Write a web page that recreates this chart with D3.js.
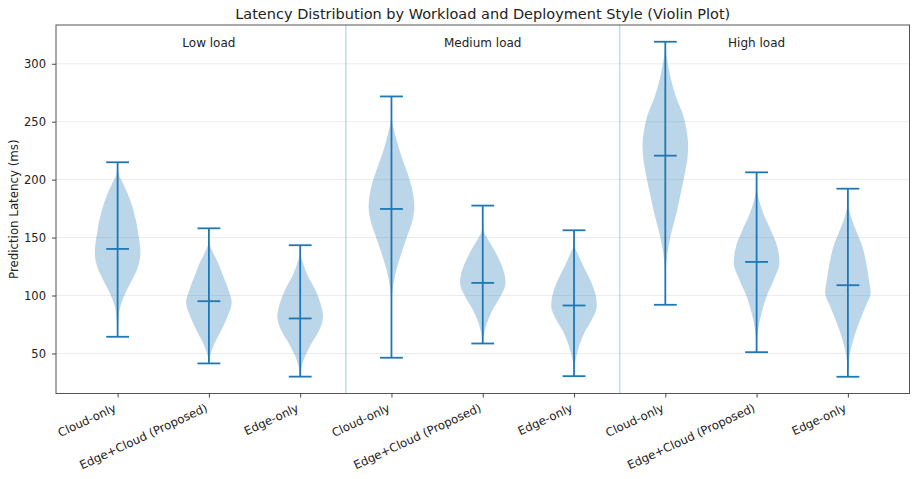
<!DOCTYPE html>
<html>
<head>
<meta charset="utf-8">
<script src="https://cdn.jsdelivr.net/npm/d3@7"></script>
<style>
  html, body { margin: 0; padding: 0; background: #fff; }
  text { font-family: "DejaVu Sans", sans-serif; fill: #222; }
</style>
</head>
<body>
<svg id="chart" width="912" height="479"></svg>
<script>
// ---------------- data ----------------
const title = "Latency Distribution by Workload and Deployment Style (Violin Plot)";
const yLabel = "Prediction Latency (ms)";
const loads = ["Low load", "Medium load", "High load"];
const styles = ["Cloud-only", "Edge+Cloud (Proposed)", "Edge-only"];
const yTicks = [50, 100, 150, 200, 250, 300];

// per violin, in order Low/Medium/High × Cloud-only/Edge+Cloud/Edge-only
const mins    = [64.4, 41.4, 30.0, 46.3, 58.6, 30.4, 92.0, 51.1, 29.9];
const maxs    = [215.0, 158.0, 143.4, 271.8, 177.6, 156.3, 319.0, 206.3, 192.2];
const medians = [140.2, 95.1, 80.2, 174.7, 110.9, 91.4, 220.7, 129.0, 108.9];

// density profiles: [latency, relative half-width]
const lowCloud = [[64.4,0],[72,0.01],[76.5,0.03],[88,0.09],[99.4,0.28],[111,0.57],[125.3,0.9],[136.8,1.0],[154,0.9],[168.4,0.76],[182.8,0.54],[197,0.23],[204,0.06],[210,0.02],[215,0]];
const lowHybrid = [[41.4,0],[45,0.02],[50.6,0.09],[59.2,0.26],[70.7,0.56],[82.2,0.82],[93.7,1.0],[105.2,0.85],[116.6,0.63],[128.2,0.4],[139.7,0.12],[145,0.03],[158,0]];
const lowEdge = [[30,0],[33,0.02],[39,0.07],[47.7,0.22],[59.2,0.51],[70.7,0.85],[82.2,1.0],[93.7,0.88],[105.2,0.66],[116.6,0.34],[128.2,0.12],[134,0.03],[143.4,0]];
const medCloud = [[46.3,0],[90,0.01],[100,0.02],[108,0.07],[122.4,0.22],[136.8,0.44],[151.1,0.69],[165.5,0.93],[177,1.0],[191.4,0.91],[205.8,0.7],[220,0.44],[234.5,0.22],[246,0.07],[252,0.02],[271.8,0]];
const medHybrid = [[58.6,0],[62,0.02],[67.8,0.07],[76.5,0.19],[87.9,0.44],[99.4,0.78],[110.9,1.0],[116.6,0.97],[128.2,0.78],[139.7,0.49],[151.1,0.15],[157,0.03],[177.6,0]];
const medEdge = [[30.4,0],[39,0.02],[44.8,0.07],[56.3,0.22],[67.8,0.45],[79.3,0.78],[90.8,1.0],[102.3,0.92],[113.8,0.7],[125.3,0.41],[136.8,0.15],[142.5,0.03],[156.3,0]];
const highCloud = [[92,0],[115,0.01],[123,0.02],[128.2,0.04],[142.5,0.14],[156.9,0.3],[171.3,0.49],[185.6,0.65],[200,0.8],[214.4,0.94],[228.7,1.0],[243.1,0.93],[257.5,0.75],[271.8,0.46],[286.2,0.25],[300.6,0.1],[309,0.03],[319,0]];
const highHybrid = [[51.1,0],[62,0.02],[70.7,0.07],[85.1,0.22],[99.4,0.44],[113.8,0.76],[128.2,1.0],[142.5,0.9],[156.9,0.61],[171.3,0.29],[185.6,0.07],[191.4,0.02],[206.3,0]];
const highEdge = [[29.9,0],[37,0.02],[47.7,0.07],[62.1,0.24],[76.5,0.49],[90.8,0.78],[102.3,1.0],[113.8,0.92],[128.2,0.8],[142.5,0.63],[156.9,0.34],[171.3,0.09],[177,0.03],[192.2,0]];
const profiles = [lowCloud, lowHybrid, lowEdge, medCloud, medHybrid, medEdge, highCloud, highHybrid, highEdge];

// ---------------- layout ----------------
const plot = { left: 56, right: 909.5, top: 25, bottom: 393.5 };
const color = "#1f77b4";
const violinWidth = 0.5;

const positions = d3.range(1, 10);
const xPad = (positions[positions.length - 1] - positions[0] + violinWidth) * 0.05;
const x = d3.scaleLinear()
  .domain([positions[0] - violinWidth / 2 - xPad, positions[positions.length - 1] + violinWidth / 2 + xPad])
  .range([plot.left, plot.right]);

const yMin = d3.min(mins), yMax = d3.max(maxs);
const yPad = (yMax - yMin) * 0.05;
const y = d3.scaleLinear().domain([yMin - yPad, yMax + yPad]).range([plot.bottom, plot.top]);

const svg = d3.select("#chart");

// grid
svg.append("g").selectAll("line").data(yTicks).join("line")
  .attr("x1", plot.left).attr("x2", plot.right)
  .attr("y1", d => y(d)).attr("y2", d => y(d))
  .attr("stroke", "#ececec").attr("stroke-width", 1);

// group separators
svg.append("g").selectAll("line").data([3.5, 6.5]).join("line")
  .attr("x1", d => x(d)).attr("x2", d => x(d))
  .attr("y1", plot.top).attr("y2", plot.bottom)
  .attr("stroke", color).attr("stroke-opacity", 0.25).attr("stroke-width", 1.6);

// violins
const dx = x(1) - x(0);
const area = d3.area()
  .curve(d3.curveMonotoneY)
  .y(d => y(d[0]));

const vg = svg.append("g");
profiles.forEach((prof, i) => {
  const cx = x(positions[i]);
  const half = dx * violinWidth / 2;
  vg.append("path")
    .datum(prof)
    .attr("d", area.x0(d => cx - d[1] * half).x1(d => cx + d[1] * half))
    .attr("fill", color).attr("fill-opacity", 0.3).attr("stroke", "none");
});

// extrema & median lines
const lg = svg.append("g").attr("stroke", color).attr("stroke-width", 1.8).attr("fill", "none");
positions.forEach((p, i) => {
  const cx = x(p);
  const cap = dx * violinWidth / 4;
  lg.append("line").attr("x1", cx).attr("x2", cx).attr("y1", y(mins[i])).attr("y2", y(maxs[i]));
  [mins[i], maxs[i], medians[i]].forEach(v => {
    lg.append("line").attr("x1", cx - cap).attr("x2", cx + cap).attr("y1", y(v)).attr("y2", y(v));
  });
});

// axes
const yAxis = svg.append("g").attr("transform", `translate(${plot.left},0)`)
  .call(d3.axisLeft(y).tickValues(yTicks).tickSize(4).tickPadding(6).tickFormat(d3.format("d")));
yAxis.select(".domain").remove();
yAxis.selectAll("line").attr("stroke", "#444");
yAxis.selectAll("text").style("font-size", "11.5px").attr("fill", "#222");

const xAxis = svg.append("g").attr("transform", `translate(0,${plot.bottom})`)
  .call(d3.axisBottom(x).tickValues(positions).tickSize(4).tickFormat((d, i) => styles[i % 3]));
xAxis.select(".domain").remove();
xAxis.selectAll("line").attr("stroke", "#444");
xAxis.selectAll("text")
  .style("font-size", "11.7px").attr("fill", "#222")
  .attr("text-anchor", "end")
  .attr("y", null).attr("dy", null)
  .attr("transform", "translate(-1.1,17.2) rotate(-25)");

// frame
svg.append("rect")
  .attr("x", plot.left).attr("y", plot.top)
  .attr("width", plot.right - plot.left).attr("height", plot.bottom - plot.top)
  .attr("fill", "none").attr("stroke", "#555").attr("stroke-width", 1);

// group labels
svg.append("g").selectAll("text").data(loads).join("text")
  .attr("x", (d, i) => x(positions[i * 3 + 1]))
  .attr("y", 47)
  .attr("text-anchor", "middle")
  .style("font-size", "12px")
  .text(d => d);

// title
svg.append("text")
  .attr("x", (plot.left + plot.right) / 2).attr("y", 18.5)
  .attr("text-anchor", "middle")
  .style("font-size", "14.5px")
  .text(title);

// y label
svg.append("text")
  .attr("transform", `translate(18,${(plot.top + plot.bottom) / 2}) rotate(-90)`)
  .attr("text-anchor", "middle")
  .style("font-size", "11.8px")
  .text(yLabel);
</script>
</body>
</html>
